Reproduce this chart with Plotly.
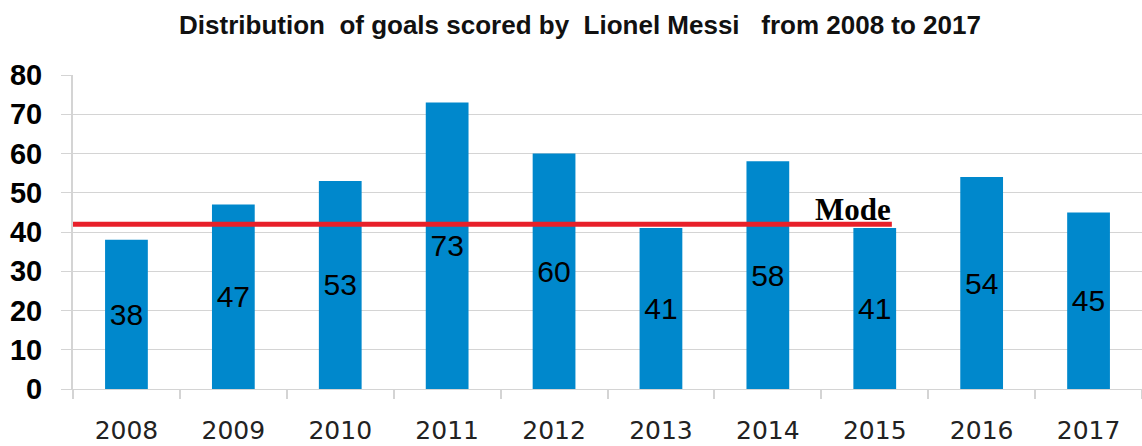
import plotly.graph_objects as go

# Goals per calendar year
years = ["2008", "2009", "2010", "2011", "2012", "2013", "2014", "2015", "2016", "2017"]
goals = [38, 47, 53, 73, 60, 41, 58, 41, 54, 45]

# Horizontal reference line for the mode and its label
mode_level = 42
mode_line_start = -0.5
mode_line_end = 7.16
mode_label = "Mode"

y_ticks = [0, 10, 20, 30, 40, 50, 60, 70, 80]

bar_color = "#0088cc"
grid_color = "#d4d4d4"

fig = go.Figure()

fig.add_trace(go.Bar(
    x=years,
    y=goals,
    text=[str(g) for g in goals],
    textposition="inside",
    insidetextanchor="middle",
    textangle=0,
    textfont=dict(family="Arial, Liberation Sans, sans-serif", size=30, color="#000000"),
    marker=dict(color=bar_color, line=dict(width=0)),
    width=0.4,
    showlegend=False,
))

fig.add_shape(
    type="line", xref="x", yref="y",
    x0=mode_line_start, x1=mode_line_end, y0=mode_level, y1=mode_level,
    line=dict(color="#e8202a", width=5),
    layer="above",
)

fig.add_annotation(
    x=6.8, y=mode_level, xref="x", yref="y",
    text=mode_label, showarrow=False,
    yanchor="bottom", yshift=-5,
    font=dict(family="Liberation Serif, Times New Roman, serif", size=31, color="#000000", weight="bold"),
)

fig.update_layout(
    width=1142, height=446,
    margin=dict(l=73, r=0, t=75, b=57),
    paper_bgcolor="#ffffff",
    plot_bgcolor="#ffffff",
    title=dict(
        text="<b>Distribution  of goals scored by  Lionel Messi   from 2008 to 2017</b>",
        x=580 / 1142, xanchor="center", xref="container",
        y=1 - 25 / 446, yanchor="middle", yref="container",
        font=dict(family="Arial, Liberation Sans, sans-serif", size=26, color="#111111"),
    ),
    bargap=0.6,
)

fig.update_xaxes(
    type="category",
    range=[-0.5, 9.5],
    showline=True, linecolor=grid_color, linewidth=1,
    ticks="outside", tickson="boundaries", ticklen=9, tickcolor=grid_color, tickwidth=2,
    showgrid=False,
    tickfont=dict(family="DejaVu Sans, Century Gothic, sans-serif", size=25, color="#222222"),
    ticklabelstandoff=19,
)

fig.update_yaxes(
    range=[0, 80],
    tickvals=y_ticks,
    showgrid=True, gridcolor=grid_color, gridwidth=1,
    showline=True, linecolor=grid_color, linewidth=2,
    ticks="outside", ticklen=10, tickcolor=grid_color,
    zeroline=False,
    tickfont=dict(family="Arial, Liberation Sans, sans-serif", size=29, color="#000000", weight="bold"),
    ticklabelstandoff=13,
)

fig.write_html("out.html")
